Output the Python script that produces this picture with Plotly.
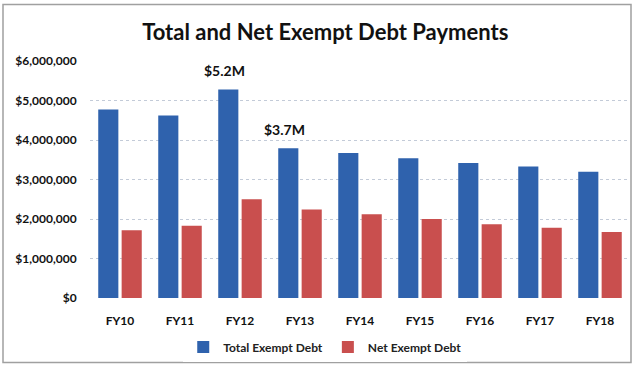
import plotly.graph_objects as go

categories = ["FY10", "FY11", "FY12", "FY13", "FY14", "FY15", "FY16", "FY17", "FY18"]
total_exempt = [4770000, 4620000, 5280000, 3790000, 3670000, 3540000, 3420000, 3330000, 3200000]
net_exempt = [1720000, 1830000, 2500000, 2240000, 2120000, 2000000, 1870000, 1780000, 1670000]
y_ticks = [0, 1000000, 2000000, 3000000, 4000000, 5000000, 6000000]
y_tick_labels = ["$0", "$1,000,000", "$2,000,000", "$3,000,000", "$4,000,000", "$5,000,000", "$6,000,000"]
label_cats = ["FY12", "FY13"]
label_texts = ["$5.2M", "$3.7M"]

W, H = 634, 368
ml, mr, mt, mb = 90, 4, 61, 68
FONT = "Lato"

fig = go.Figure()
fig.add_trace(go.Bar(name="Total Exempt Debt", x=categories, y=total_exempt,
                     marker=dict(color="#2f62ad", line=dict(width=0))))
fig.add_trace(go.Bar(name="Net Exempt Debt", x=categories, y=net_exempt,
                     marker=dict(color="#c94f4e", line=dict(width=0))))

for cat, txt in zip(label_cats, label_texts):
    i = categories.index(cat)
    fig.add_annotation(x=cat, y=total_exempt[i], text="<b>" + txt + "</b>", showarrow=False,
                       xshift=-16, yshift=8, yanchor="bottom",
                       font=dict(family=FONT, size=14, color="#111"))

# thin frame around the whole picture
pw, ph = W - ml - mr, H - mt - mb
def px_x(p): return (p - ml) / pw
def px_y(p): return (H - mb - p) / ph
fig.add_shape(type="rect", xref="paper", yref="paper",
              x0=px_x(3), x1=px_x(631), y0=px_y(365), y1=px_y(4),
              line=dict(color="#a0a0a0", width=1.5), layer="below")

fig.update_layout(
    width=W, height=H,
    margin=dict(l=ml, r=mr, t=mt, b=mb),
    paper_bgcolor="white", plot_bgcolor="white",
    barmode="group", bargap=0.22, bargroupgap=0.14,
    title=dict(text="<b>Total and Net Exempt Debt Payments</b>", x=0.513, xref="container",
               xanchor="center", y=1 - 32 / H, yanchor="middle",
               font=dict(family=FONT, size=22, color="#111")),
    legend=dict(orientation="h", xref="container", x=0.513, xanchor="center",
                yref="container", y=1 - 347 / H, yanchor="middle",
                font=dict(family=FONT, size=12, color="#222", weight="bold"),
                itemwidth=30, traceorder="normal"),
    xaxis=dict(showgrid=False, showline=False, ticks="outside", ticklen=12, tickcolor="rgba(0,0,0,0)",
               tickfont=dict(family=FONT, size=12, color="#111", weight="bold")),
    yaxis=dict(range=[0, 6000000], tickvals=y_ticks, ticktext=y_tick_labels,
               showgrid=True, gridcolor="#c3cbd8", griddash="dot", gridwidth=1,
               zeroline=False, showline=False, ticks="outside", ticklen=10, tickcolor="rgba(0,0,0,0)",
               tickfont=dict(family=FONT, size=12, color="#111", weight="bold")),
)

fig.write_html("out.html")
